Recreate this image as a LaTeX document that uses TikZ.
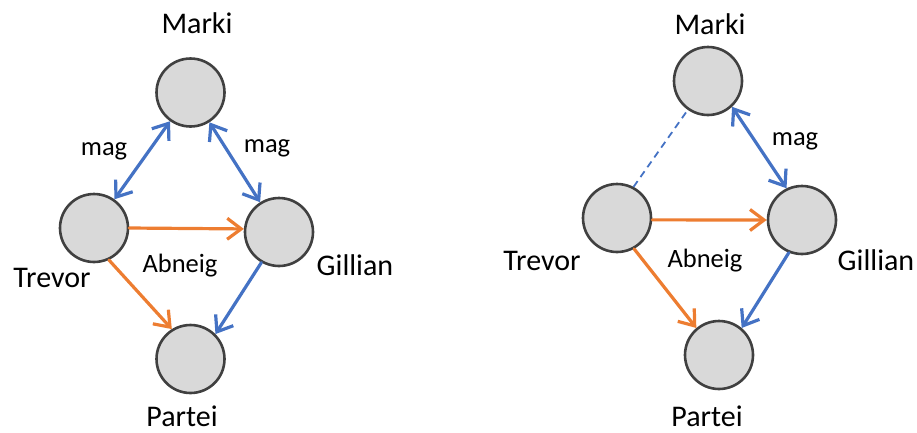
\documentclass[tikz,border=0pt]{standalone}
\usepackage{fontspec}
\setmainfont{Carlito}
\usetikzlibrary{arrows.meta}
\definecolor{relblue}{HTML}{4472C4}
\definecolor{relorange}{HTML}{ED7D31}
\definecolor{personfill}{HTML}{D9D9D9}
\definecolor{personline}{HTML}{404040}
\begin{document}
\begin{tikzpicture}[x=1pt,y=-1pt,
  person/.style={circle,draw=personline,fill=personfill,line width=2.6pt,minimum size=68pt,inner sep=0pt},
  personlabel/.style={anchor=base,font=\fontsize{30}{36}\selectfont,inner sep=0pt},
  rellabel/.style={anchor=base,font=\fontsize{26.5}{32}\selectfont,inner sep=0pt},
  connline/.style={line width=3.2pt,line cap=round,line join=round},
  barb/.style={Straight Barb[length=14pt,width=21pt]},
  likes/.style={connline,draw=relblue,{Straight Barb[length=14pt,width=21pt]}-{Straight Barb[length=14pt,width=21pt]}},
  bluearr/.style={connline,draw=relblue,-{Straight Barb[length=14pt,width=21pt]}},
  dislikes/.style={connline,draw=relorange,-{Straight Barb[length=14pt,width=21pt]}},
  weak/.style={draw=relblue,line width=1.8pt,dash pattern=on 7pt off 5pt}]
\useasboundingbox (0,0) rectangle (917,432);

% left network
\node[person] (M1) at (190.5,92.5) {};
\node[person] (T1) at (94,228) {};
\node[person] (G1) at (279,232) {};
\node[person] (P1) at (190.5,359) {};
\node[personlabel] (lM1) at (197,33) {Marki};
\node[personlabel] (lT1) at (52,287) {Trevor};
\node[personlabel] (lG1) at (355,275) {Gillian};
\node[personlabel] (lP1) at (182,426) {Partei};
\node[rellabel] (mag1a) at (104,155) {mag};
\node[rellabel] (mag1b) at (267,152) {mag};
\node[rellabel] (ab1) at (180,272) {Abneig};
\draw[likes] (M1) -- (T1);
\draw[likes] (M1) -- (G1);
\draw[dislikes] (T1.0) -- (G1.175);
\draw[dislikes] (T1.-65) -- (P1.122);
\draw[bluearr] (G1.-120) -- (P1.45);

% right network
\node[person] (M2) at (708,81) {};
\node[person] (T2) at (617,218) {};
\node[person] (G2) at (802,220) {};
\node[person] (P2) at (719,355) {};
\node[personlabel] (lM2) at (710,34) {Marki};
\node[personlabel] (lT2) at (542,270) {Trevor};
\node[personlabel] (lG2) at (876,270) {Gillian};
\node[personlabel] (lP2) at (707,426) {Partei};
\node[rellabel] (mag2) at (795,145) {mag};
\node[rellabel] (ab2) at (705,267) {Abneig};
\draw[weak] (T2.62) -- (M2.235);
\draw[likes] (M2.-47) -- (G2.116);
\draw[dislikes] (T2.-3) -- (G2.180);
\draw[dislikes] (T2.-61) -- (P2.130);
\draw[bluearr] (G2.-112) -- (P2.50);
\end{tikzpicture}
\end{document}
